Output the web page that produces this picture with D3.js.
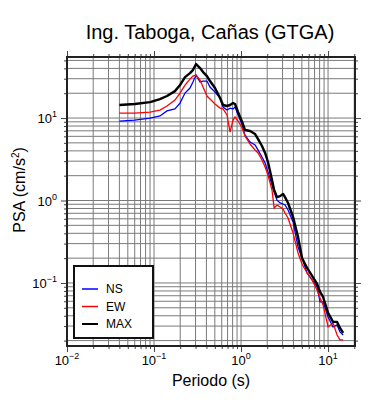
<!DOCTYPE html>
<html>
<head>
<meta charset="utf-8">
<script src="https://cdn.jsdelivr.net/npm/d3@7"></script>
<style>
  body { margin: 0; background: #fff; }
  text { font-family: "Liberation Sans", Arial, Helvetica, sans-serif; fill: #000; }
</style>
</head>
<body>
<script>
// periods (s) and spectral accelerations
const periods = [0.040, 0.060, 0.090, 0.117, 0.141, 0.174, 0.199, 0.227, 0.259, 0.280,
  0.304, 0.338, 0.366, 0.406, 0.440, 0.502, 0.574, 0.621, 0.690, 0.748,
  0.809, 0.853, 0.925, 1.03, 1.11, 1.27, 1.45, 1.57, 1.74, 1.89,
  2.04, 2.27, 2.40, 2.59, 2.81, 3.04, 3.20, 3.47, 3.96, 4.52,
  5.02, 5.74, 6.55, 7.48, 8.09, 8.77, 10.0, 11.4, 12.7, 13.7, 14.9];

const ns = [9.20, 9.46, 10.0, 10.6, 12.2, 12.9, 15.2, 20.1, 23.1, 27.3,
  33.2, 27.3, 28.1, 28.1, 23.8, 20.7, 17.5, 13.6, 12.5, 13.2,
  12.9, 13.6, 10.9, 8.23, 6.22, 5.12, 4.71, 4.09, 3.37, 2.85,
  2.22, 1.54, 1.27, 1.01, 0.933, 0.907, 0.882, 0.767, 0.549, 0.273,
  0.201, 0.132, 0.109, 0.0895, 0.0589, 0.0589, 0.0387, 0.0293, 0.0310, 0.0255, 0.0234];

const ew = [11.5, 11.5, 11.8, 12.5, 14.0, 16.5, 20.1, 25.1, 29.7, 32.3,
  33.2, 28.9, 23.8, 18.5, 17.0, 14.8, 13.2, 12.9, 10.9, 6.77,
  9.46, 10.3, 9.20, 7.57, 6.05, 4.84, 4.09, 3.77, 3.10, 2.55,
  2.04, 1.34, 0.811, 0.882, 0.834, 0.789, 0.705, 0.614, 0.404, 0.231,
  0.170, 0.132, 0.109, 0.0822, 0.0658, 0.0541, 0.0293, 0.0327, 0.0234, 0.0204, 0.0204];

const maxv = [14.4, 14.8, 15.6, 17.0, 18.5, 21.2, 25.1, 31.4, 35.1, 38.2,
  45.1, 40.4, 36.1, 32.3, 28.1, 23.1, 17.5, 14.4, 14.0, 14.4,
  15.2, 14.8, 11.8, 8.95, 7.16, 6.96, 6.40, 5.56, 4.58, 3.77,
  2.93, 1.77, 1.34, 1.10, 1.13, 1.20, 1.10, 0.933, 0.631, 0.361,
  0.201, 0.152, 0.122, 0.0972, 0.0778, 0.0676, 0.0433, 0.0337, 0.0337, 0.0285, 0.0248];

const xMajor = [0.01, 0.1, 1, 10];
const yMajor = [0.1, 1, 10];
const xExp = ["\u22122", "\u22121", "0", "1"];
const yExp = ["\u22121", "0", "1"];

const seriesNames = ["NS", "EW", "MAX"];
const seriesColors = ["#0000ff", "#ff0000", "#000000"];

const W = 390, H = 400;
const mLeft = 67, mRight = 355, mTop = 57, mBottom = 346;

const svg = d3.select("body").append("svg")
  .attr("width", W)
  .attr("height", H);

const x = d3.scaleLog().domain([0.01, 20.4]).range([mLeft, mRight]);
const y = d3.scaleLog().domain([0.0172, 55]).range([mBottom, mTop]);

// all 1..9 multiples inside the domain
function logTicks(scale) {
  const [a, b] = scale.domain();
  const out = [];
  for (let e = Math.floor(Math.log10(a)); e <= Math.ceil(Math.log10(b)); e++) {
    for (let m = 1; m <= 9; m++) {
      const v = m * Math.pow(10, e);
      if (v >= a * 0.999 && v <= b * 1.001) out.push(v);
    }
  }
  return out;
}
const xAll = logTicks(x);
const yAll = logTicks(y);
const xMinor = xAll.filter(v => !xMajor.some(m => Math.abs(v / m - 1) < 1e-6));
const yMinor = yAll.filter(v => !yMajor.some(m => Math.abs(v / m - 1) < 1e-6));

// grid
const grid = svg.append("g")
  .attr("stroke", "#7a7a7a")
  .attr("stroke-width", 1);
grid.selectAll(".gx").data(xAll).enter().append("line")
  .attr("x1", d => x(d)).attr("x2", d => x(d))
  .attr("y1", mTop).attr("y2", mBottom);
grid.selectAll(".gy").data(yAll).enter().append("line")
  .attr("y1", d => y(d)).attr("y2", d => y(d))
  .attr("x1", mLeft).attr("x2", mRight);

// ticks on all four sides (outside the frame)
function tickAxis(axisFn, scale, vals, size, tr) {
  svg.append("g")
    .attr("transform", tr)
    .call(axisFn(scale).tickValues(vals).tickSize(size).tickFormat(""))
    .call(g => g.select(".domain").remove())
    .call(g => g.selectAll("line").attr("stroke", "#444").attr("stroke-width", 1));
}
tickAxis(d3.axisBottom, x, xMajor, 6, `translate(0,${mBottom})`);
tickAxis(d3.axisBottom, x, xMinor, 3, `translate(0,${mBottom})`);
tickAxis(d3.axisTop, x, xMajor, 6, `translate(0,${mTop})`);
tickAxis(d3.axisTop, x, xMinor, 3, `translate(0,${mTop})`);
tickAxis(d3.axisLeft, y, yMajor, 6, `translate(${mLeft},0)`);
tickAxis(d3.axisLeft, y, yMinor, 3, `translate(${mLeft},0)`);
tickAxis(d3.axisRight, y, yMajor, 6, `translate(${mRight},0)`);
tickAxis(d3.axisRight, y, yMinor, 3, `translate(${mRight},0)`);

// curves
const line = d3.line()
  .x((d, i) => x(periods[i]))
  .y(d => y(d));

svg.append("path").datum(ns)
  .attr("d", line).attr("fill", "none")
  .attr("stroke", seriesColors[0]).attr("stroke-width", 1.3);
svg.append("path").datum(ew)
  .attr("d", line).attr("fill", "none")
  .attr("stroke", seriesColors[1]).attr("stroke-width", 1.3);
svg.append("path").datum(maxv)
  .attr("d", line).attr("fill", "none")
  .attr("stroke", seriesColors[2]).attr("stroke-width", 2.4)
  .attr("stroke-linejoin", "round");

// frame
svg.append("rect")
  .attr("x", mLeft).attr("y", mTop)
  .attr("width", mRight - mLeft).attr("height", mBottom - mTop)
  .attr("fill", "none")
  .attr("stroke", "#222")
  .attr("stroke-width", 2);

// tick labels
xMajor.forEach((v, i) => {
  const t = svg.append("text")
    .attr("x", x(v)).attr("y", 365)
    .attr("text-anchor", "middle")
    .style("font-size", "13px");
  t.append("tspan").text("10");
  t.append("tspan").attr("dy", -6).style("font-size", "9px").text(xExp[i]);
});
yMajor.forEach((v, i) => {
  const t = svg.append("text")
    .attr("x", 57).attr("y", y(v) + 5)
    .attr("text-anchor", "end")
    .style("font-size", "13px");
  t.append("tspan").text("10");
  t.append("tspan").attr("dy", -6).style("font-size", "9px").text(yExp[i]);
});

// titles
svg.append("text")
  .attr("x", 210).attr("y", 39)
  .attr("text-anchor", "middle")
  .style("font-size", "20px")
  .text("Ing. Taboga, Cañas (GTGA)");

svg.append("text")
  .attr("x", 211).attr("y", 386)
  .attr("text-anchor", "middle")
  .style("font-size", "16px")
  .text("Periodo (s)");

const yl = svg.append("text")
  .attr("transform", "translate(25,190) rotate(-90)")
  .attr("text-anchor", "middle")
  .style("font-size", "16px");
yl.append("tspan").text("PSA (cm/s");
yl.append("tspan").attr("dy", -6).style("font-size", "10px").text("2");
yl.append("tspan").attr("dy", 6).text(")");

// legend
const lg = svg.append("g");
lg.append("rect")
  .attr("x", 74).attr("y", 266)
  .attr("width", 79).attr("height", 72)
  .attr("fill", "#fff")
  .attr("stroke", "#111")
  .attr("stroke-width", 2);
seriesNames.forEach((name, i) => {
  const ly = 289 + i * 17.5;
  lg.append("line")
    .attr("x1", 82).attr("x2", 98)
    .attr("y1", ly).attr("y2", ly)
    .attr("stroke", seriesColors[i])
    .attr("stroke-width", i === 2 ? 2 : 1.5);
  lg.append("text")
    .attr("x", 106).attr("y", ly + 4)
    .style("font-size", "12px")
    .text(name);
});
</script>
</body>
</html>
